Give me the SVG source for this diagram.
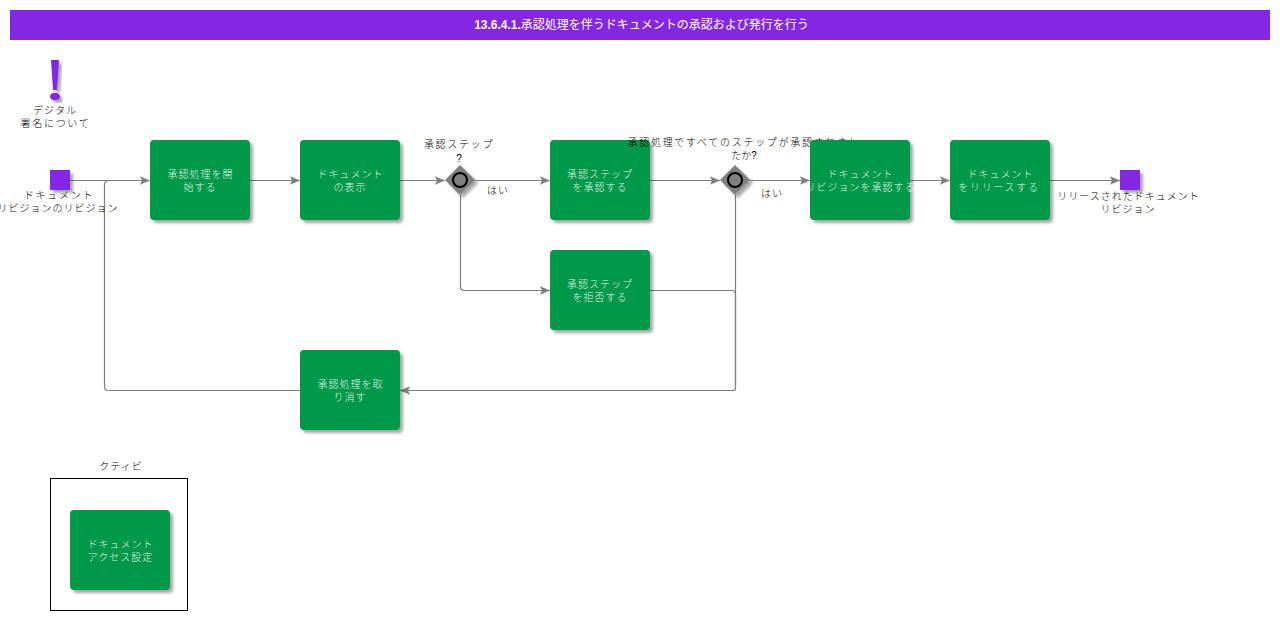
<svg xmlns="http://www.w3.org/2000/svg" width="1280" height="620" viewBox="0 0 1280 620">
<style>
text{font-family:"Liberation Sans","Noto Sans CJK JP",sans-serif;font-size:10px;text-anchor:middle;fill:#000;font-weight:300}
.t{fill:#fff;fill-opacity:.9;font-size:10px;letter-spacing:1px}
.l{letter-spacing:1px}
.w{letter-spacing:1.7px}
.q{font-weight:400}
.title{fill:#fff;font-size:12px;font-weight:400}
.title tspan{font-weight:bold}
.task{fill:#00984a;filter:url(#s)}
.ev{fill:#8427e2;filter:url(#s)}
.gw{fill:#808080;filter:url(#s)}
.c{fill:none;stroke:#7f7f7f;stroke-width:1.2;marker-end:url(#a)}
.n{fill:none;stroke:#7f7f7f;stroke-width:1.2}
</style>
<defs>
<filter id="s" x="-20%" y="-20%" width="150%" height="150%"><feDropShadow dx="3" dy="3" stdDeviation="1.5" flood-color="#000" flood-opacity=".35"/></filter>
<marker id="a" markerUnits="userSpaceOnUse" markerWidth="11" markerHeight="10" refX="10" refY="5" orient="auto"><path d="M0 .8L10 5L0 9.2L2 5Z" fill="#7f7f7f"/></marker>
</defs>
<g id="title"><rect x="10" y="10" width="1260" height="30" fill="#8427e2"/><text class="title" x="641.5" y="29"><tspan>13.6.4.1.</tspan>承認処理を伴うドキュメントの承認および発行を行う</text></g>
<g id="connectors">
<path class="c" d="M70 180.500H150"/>
<path class="n" d="M300 390.500H108.500Q104.500 390.500 104.500 386.500V185Q104.500 181 108.500 180.500H120"/>
<path class="c" d="M250 180.500H300"/>
<path class="c" d="M400 180.500H445"/>
<path class="c" d="M475 180.500H550"/>
<path class="c" d="M460.500 195V286.500Q460.500 290.500 464.500 290.500H550"/>
<path class="c" d="M650 180.500H720"/>
<path class="c" d="M750 180.500H810"/>
<path class="c" d="M910 180.500H950"/>
<path class="c" d="M1050 180.500H1120"/>
<path class="n" d="M650 290.500H731.500Q735.500 290.500 735.500 294.500V386"/>
<path class="c" d="M735.500 195V388.500Q735.500 390.500 733.500 390.500H400"/>
</g>
<g id="note"><path d="M51 60H59L57 90H53Z" class="ev"/><ellipse cx="55" cy="96.500" rx="5" ry="3.800" class="ev"/><text class="l" x="55" y="114">デジタル</text><text class="w" x="55.500" y="127">署名について</text></g>
<g id="start"><rect class="ev" x="50" y="170" width="20" height="20"/><text class="w" x="59" y="199">ドキュメント</text><text class="l" x="58" y="212">リビジョンのリビジョン</text></g>
<g id="t1"><rect class="task" x="150" y="140" width="100" height="80" rx="4"/><text class="t" x="200.500" y="178">承認処理を開</text><text class="t" x="200" y="191">始する</text></g>
<g id="t2"><rect class="task" x="300" y="140" width="100" height="80" rx="4"/><text class="t" x="350.500" y="178">ドキュメント</text><text class="t" x="350" y="191">の表示</text></g>
<g id="g1"><path class="gw" d="M460 165L475 180L460 195L445 180Z"/><circle cx="460" cy="180" r="7" fill="#808080" stroke="#000" stroke-width="2"/><text class="w" x="459" y="148">承認ステップ</text><text class="q" x="459" y="162">?</text><text class="l" x="498" y="194">はい</text></g>
<g id="t3"><rect class="task" x="550" y="140" width="100" height="80" rx="4"/><text class="t" x="600" y="178">承認ステップ</text><text class="t" x="600" y="191">を承認する</text></g>
<g id="t4"><rect class="task" x="550" y="250" width="100" height="80" rx="4"/><text class="t" x="600" y="288">承認ステップ</text><text class="t" x="600" y="301">を拒否する</text></g>
<g id="g2"><path class="gw" d="M735 165L750 180L735 195L720 180Z"/><circle cx="735" cy="180" r="7" fill="#808080" stroke="#000" stroke-width="2"/><text class="w" x="744" y="146">承認処理ですべてのステップが承認されまし</text><text x="744" y="159">たか?</text><text class="l" x="772" y="197">はい</text></g>
<g id="t5"><rect class="task" x="810" y="140" width="100" height="80" rx="4"/><text class="t" x="860.500" y="178">ドキュメント</text><text class="t" x="860.500" y="191">リビジョンを承認する</text></g>
<g id="t6"><rect class="task" x="950" y="140" width="100" height="80" rx="4"/><text class="t" x="1000.500" y="178">ドキュメント</text><text class="t" style="letter-spacing:1.7px" x="999" y="191">をリリースする</text></g>
<g id="end"><rect class="ev" x="1120" y="170" width="20" height="20"/><text class="l" x="1128.500" y="200">リリースされたドキュメント</text><text class="l" x="1128" y="213">リビジョン</text></g>
<g id="t7"><rect class="task" x="300" y="350" width="100" height="80" rx="4"/><text class="t" x="350.500" y="388">承認処理を取</text><text class="t" x="350" y="401">り消す</text></g>
<g id="legend"><rect x="50.500" y="478.500" width="137" height="132" fill="none" stroke="#000"/><text class="l" x="121" y="470">クティビ</text></g>
<g id="t8"><rect class="task" x="70" y="510" width="100" height="80" rx="4"/><text class="t" x="120.500" y="548">ドキュメント</text><text class="t" x="120.500" y="561">アクセス設定</text></g>
</svg>
